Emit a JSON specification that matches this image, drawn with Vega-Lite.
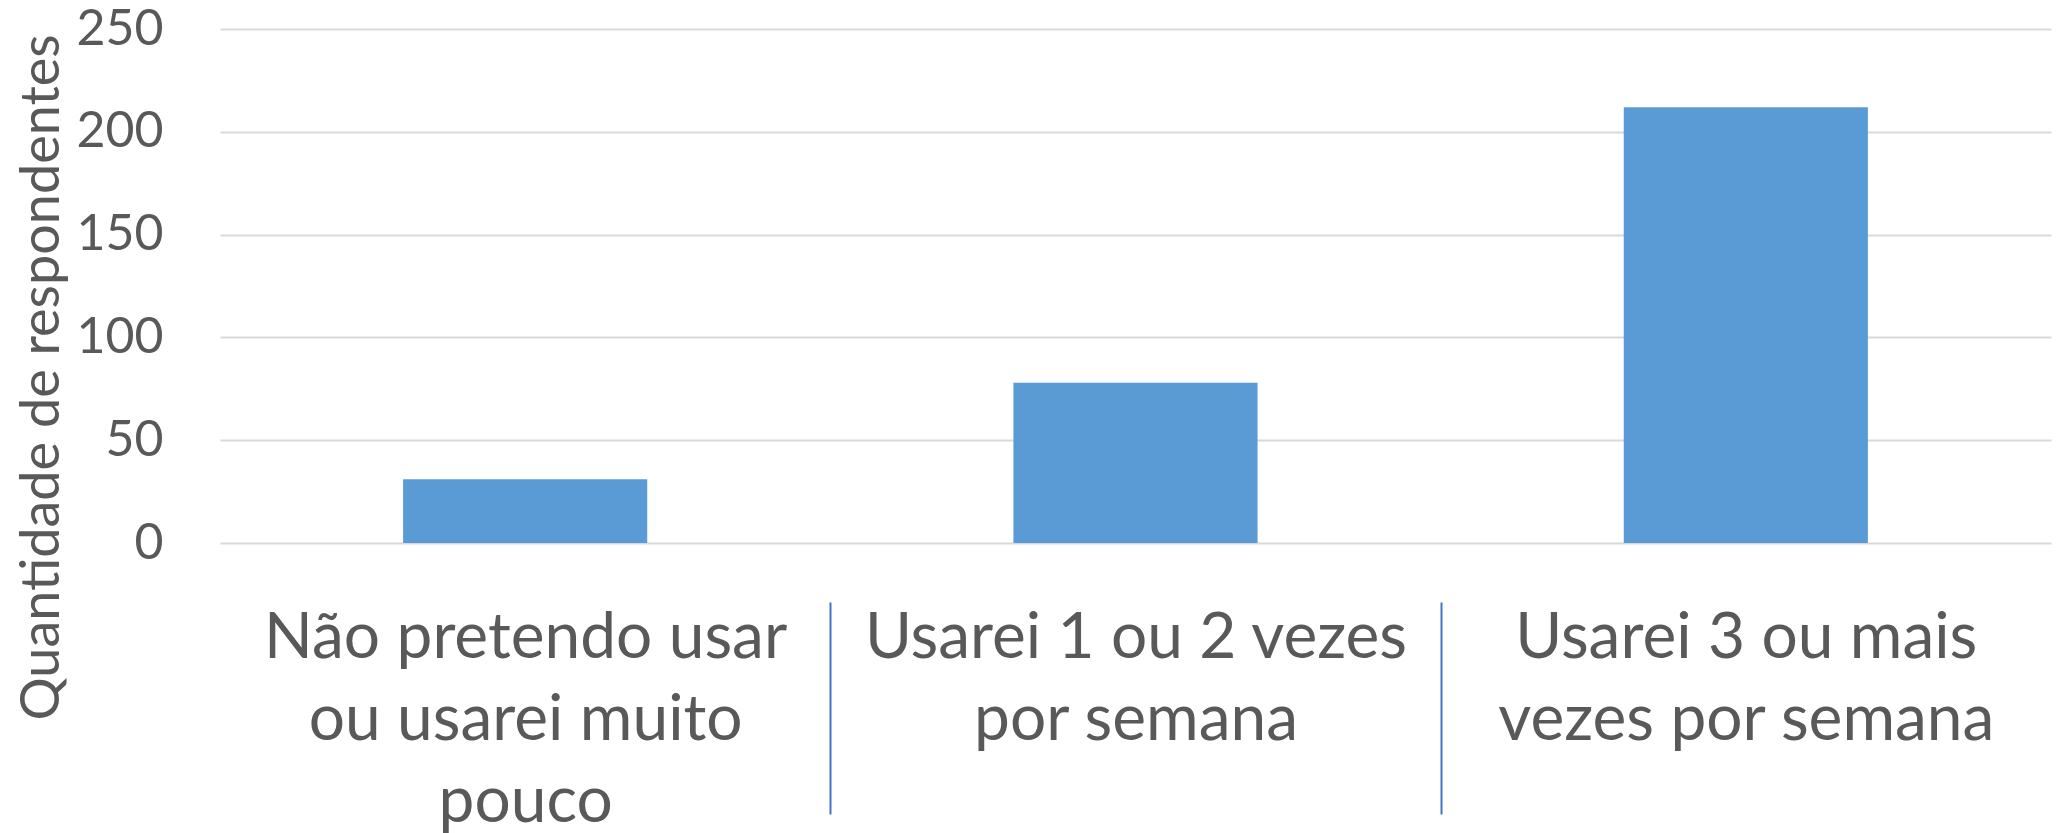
{
  "$schema": "https://vega.github.io/schema/vega-lite/v6.json",
  "autosize": "none",
  "width": 1831,
  "height": 514,
  "padding": {"left": 220, "top": 29, "right": 12, "bottom": 290},
  "background": "white",
  "config": {"view": {"stroke": null}},
  "data": {
    "values": [
      {"categoria": "Não pretendo usar|ou usarei muito|pouco", "respondentes": 31},
      {"categoria": "Usarei 1 ou 2 vezes|por semana", "respondentes": 78},
      {"categoria": "Usarei 3 ou mais|vezes por semana", "respondentes": 212}
    ]
  },
  "mark": {"type": "bar", "color": "#5b9bd5", "width": {"band": 0.4}},
  "encoding": {
    "x": {
      "field": "categoria",
      "type": "nominal",
      "sort": null,
      "scale": {"paddingInner": 0, "paddingOuter": 0},
      "axis": {
        "title": null,
        "domain": false,
        "grid": false,
        "offset": 59,
        "tickBand": "extent",
        "tickSize": 212,
        "tickWidth": 2,
        "tickColor": "#4472c4",
        "tickOpacity": {"condition": {"test": "!!datum.extra || datum.value === 'Usarei 3 ou mais|vezes por semana'", "value": 0}, "value": 1},
        "labelExpr": "split(datum.label, '|')",
        "labelAngle": 0,
        "labelAlign": "center",
        "labelBaseline": "top",
        "labelPadding": -208,
        "labelLineHeight": 82,
        "labelLimit": 0,
        "labelFont": "Lato",
        "labelFontSize": 64,
        "labelColor": "#595959"
      }
    },
    "y": {
      "field": "respondentes",
      "type": "quantitative",
      "scale": {"domain": [0, 250], "nice": false},
      "axis": {
        "title": "Quantidade de respondentes",
        "values": [0, 50, 100, 150, 200, 250],
        "domain": false,
        "ticks": false,
        "grid": true,
        "gridColor": "#d9d9d9",
        "gridWidth": 2,
        "labelPadding": 57,
        "labelFont": "Lato",
        "labelFontSize": 50,
        "labelColor": "#595959",
        "labelBaseline": "middle",
        "titleFont": "Lato",
        "titleFontSize": 54,
        "titleFontWeight": "normal",
        "titleColor": "#595959",
        "titleAngle": -90,
        "titleAlign": "center",
        "titleBaseline": "alphabetic",
        "titleX": -162,
        "titleY": 348
      }
    }
  }
}
